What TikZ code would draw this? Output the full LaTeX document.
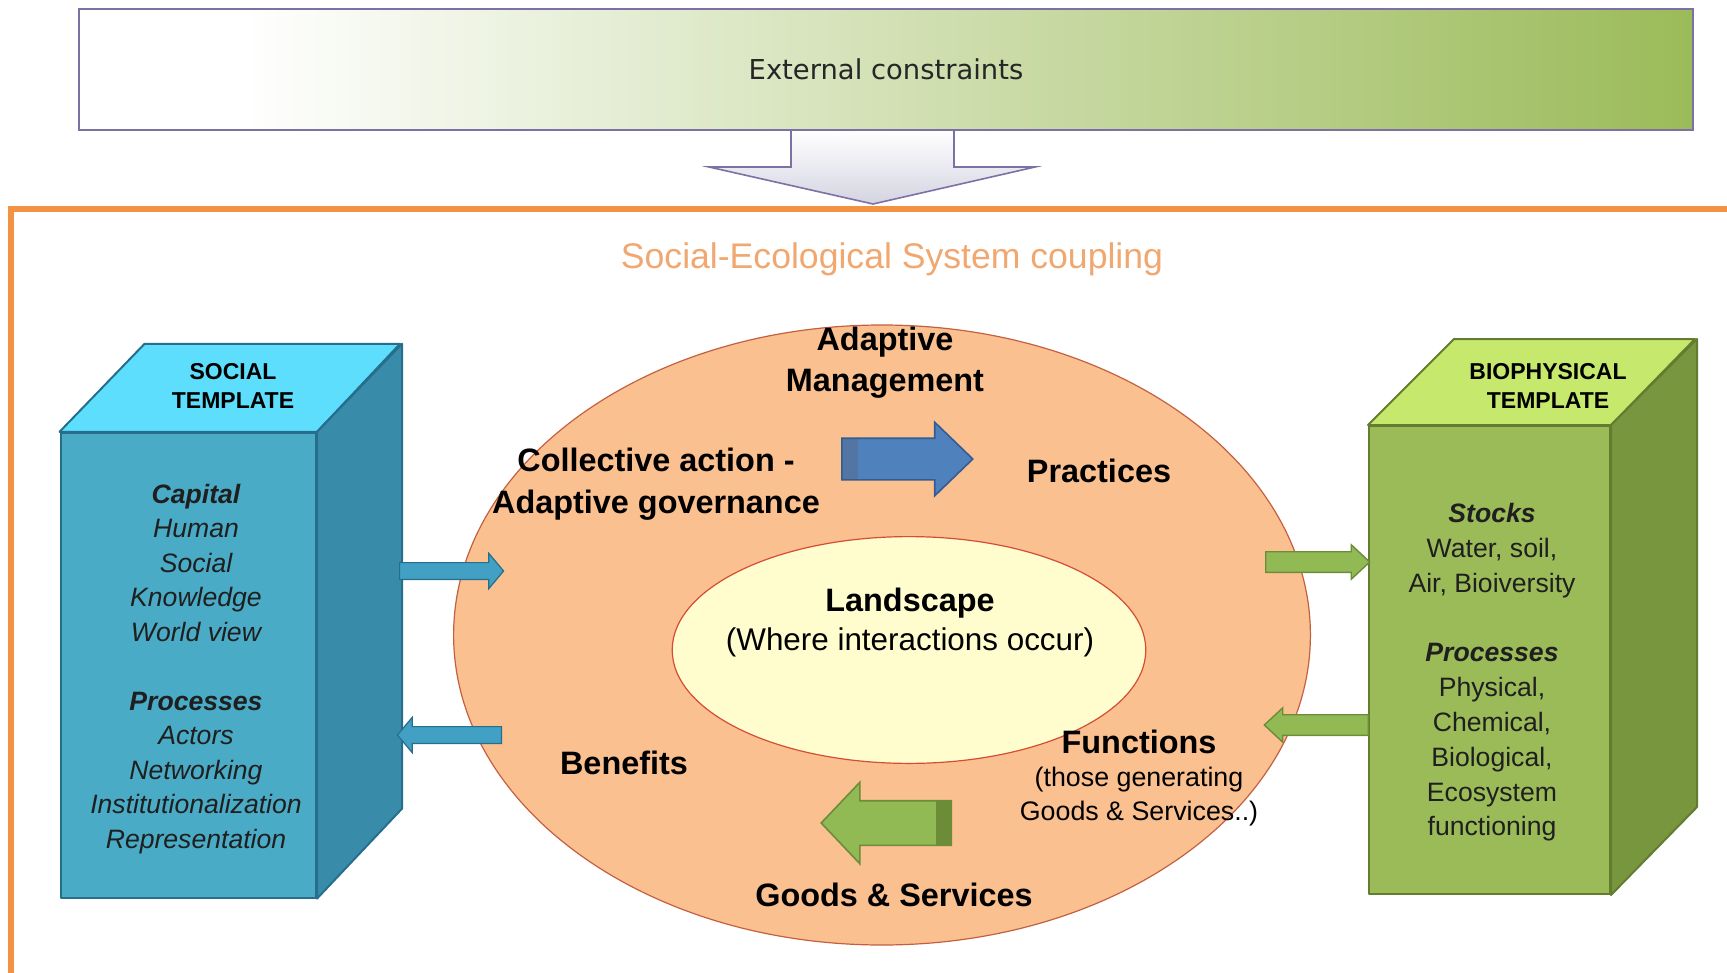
\documentclass[tikz,border=0pt]{standalone}
\usepackage{fontspec}
\setmainfont{Liberation Sans}
\newfontfamily\dejavu{DejaVu Sans}
\usetikzlibrary{shapes.geometric,shapes.arrows}

\definecolor{extgreen}{RGB}{155,187,89}
\definecolor{extline}{RGB}{125,112,165}
\definecolor{pushgray}{RGB}{212,212,226}
\definecolor{frameorange}{RGB}{242,146,66}
\definecolor{titleorange}{RGB}{240,168,112}
\definecolor{peach}{RGB}{250,192,144}
\definecolor{ringline}{RGB}{196,96,64}
\definecolor{landfill}{RGB}{255,252,206}
\definecolor{landline}{RGB}{214,76,52}
\definecolor{socfront}{RGB}{74,171,198}
\definecolor{soctop}{RGB}{92,222,252}
\definecolor{socside}{RGB}{56,140,170}
\definecolor{socline}{RGB}{38,110,140}
\definecolor{socarrowfill}{RGB}{66,160,196}
\definecolor{biofront}{RGB}{155,187,89}
\definecolor{biotop}{RGB}{198,232,108}
\definecolor{bioside}{RGB}{120,150,62}
\definecolor{bioline}{RGB}{98,124,48}
\definecolor{govblue}{RGB}{79,129,189}
\definecolor{govdark}{RGB}{52,92,148}
\definecolor{leafgreen}{RGB}{146,186,84}
\definecolor{leafdark}{RGB}{108,140,56}

\pgfdeclarehorizontalshading{extshade}{100bp}{color(0bp)=(white); color(25bp)=(white); color(30bp)=(white); color(75bp)=(extgreen); color(100bp)=(extgreen)}

\tikzset{
extbox/.style={
  draw=extline, line width=0.8pt, shade, shading=extshade,
  minimum width=807pt, minimum height=60.5pt, inner sep=0pt,
  font=\dejavu\fontsize{13.7}{16}\selectfont, text=black!85
},
pusharrow/.style={draw=extline, line width=0.8pt, top color=white, bottom color=pushgray},
frame/.style={draw=frameorange, line width=2.6pt},
frametitle/.style={text=titleorange, font=\fontsize{17.8}{21}\selectfont, inner sep=0pt},
ringshape/.style={
  ellipse, draw=ringline, line width=0.6pt, fill=peach,
  minimum width=428.4pt, minimum height=310pt, inner sep=0pt
},
landshape/.style={
  ellipse, draw=landline, line width=0.6pt, fill=landfill,
  minimum width=236.8pt, minimum height=113.4pt, inner sep=0pt
},
socface/.style={fill=socfront, draw=socline, line width=1pt, line join=round},
biopface/.style={fill=biofront, draw=bioline, line width=1pt, line join=round},
tmplhead/.style={font=\bfseries\fontsize{11.5}{14.3}\selectfont, align=center, inner sep=0pt},
socbody/.style={font=\itshape\fontsize{13.3}{17.25}\selectfont, align=center, inner sep=0pt, text=black!88},
biobody/.style={font=\fontsize{13.3}{17.4}\selectfont, align=center, inner sep=0pt, text=black!88},
ringlabel/.style={font=\bfseries\fontsize{16.2}{20.5}\selectfont, align=center, inner sep=0pt},
ringnote/.style={font=\fontsize{15.7}{19}\selectfont, align=center, inner sep=0pt},
fnnote/.style={font=\fontsize{13.4}{17}\selectfont, align=center, inner sep=0pt},
bigblue/.style={
  single arrow, draw=govdark, line width=0.8pt, fill=govblue,
  inner xsep=0pt, inner ysep=10pt, minimum height=65.5pt, minimum width=36pt,
  single arrow head extend=8pt, single arrow tip angle=88,
  path picture={\fill[govdark!85] (path picture bounding box.south west) rectangle ([xshift=8pt]path picture bounding box.north west);}
},
bigleaf/.style={
  single arrow, shape border rotate=180, draw=leafdark, line width=0.8pt, fill=leafgreen,
  inner xsep=0pt, inner ysep=10.75pt, minimum height=65pt, minimum width=40pt,
  single arrow head extend=9.25pt, single arrow tip angle=93,
  path picture={\fill[leafdark] ([xshift=-7.5pt]path picture bounding box.south east) rectangle (path picture bounding box.north east);}
},
socarrow/.style={
  single arrow, draw=socline, line width=0.6pt, fill=socarrowfill,
  inner xsep=0pt, inner ysep=3.9pt, minimum height=52pt, minimum width=17pt,
  single arrow head extend=4.6pt, single arrow tip angle=100
},
bioarrow/.style={
  single arrow, draw=leafdark, line width=0.7pt, fill=leafgreen,
  inner xsep=0pt, inner ysep=4.8pt, minimum height=52pt, minimum width=16.5pt,
  single arrow head extend=3.45pt, single arrow tip angle=86
}
}

\begin{document}
\begin{tikzpicture}[x=0.5pt,y=-0.5pt]
\useasboundingbox (0,0) rectangle (1727,973);
\clip (0,0) rectangle (1727,973);
% external constraints and the arrow below
\node[extbox] (ext) at (886,69.5) {External constraints};
\draw[pusharrow] (791,130) -- (954,130) -- (954,167) -- (1035,167) -- (873,204)
  -- (709,167) -- (791,167) -- cycle;
% the system frame
\draw[frame] (11,209) rectangle (1760,1010);
\node[frametitle] (title) at (892,259) {Social-Ecological System coupling};
% the rings
\node[ringshape] (ring) at (882,635) {};
\node[landshape] (land) at (909,650) {};
% social template
\node[socface, minimum width=127.75pt, minimum height=232.4pt, inner sep=0pt] (social) at (188.3,665.2) {};
\draw[socface, fill=soctop] (social.north west) -- ++(85,-88) -- ++(255.5,0) -- (social.north east) -- cycle;
\draw[socface, fill=socside] (social.north east) -- ++(85,-88) -- ++(0,464.8) -- (social.south east) -- cycle;
% biophysical template
\node[biopface, minimum width=120.5pt, minimum height=234pt, inner sep=0pt] (bio) at (1489.5,660) {};
\draw[biopface, fill=biotop] (bio.north west) -- ++(86,-86) -- ++(241,0) -- (bio.north east) -- cycle;
\draw[biopface, fill=bioside] (bio.north east) -- ++(86,-86) -- ++(0,468) -- (bio.south east) -- cycle;
% template texts
\node[tmplhead] (soclabel) at (233,386) {SOCIAL\\TEMPLATE};
\node[socbody] (soctext) at (196,669) {\textbf{Capital}\\Human\\Social\\Knowledge\\World view\\[17.25pt]
  \textbf{Processes}\\Actors\\Networking\\Institutionalization\\Representation};
\node[tmplhead] (biolabel) at (1548,386) {BIOPHYSICAL\\TEMPLATE};
\node[biobody] (biotext) at (1492,672.5) {\textbf{\itshape Stocks}\\Water, soil,\\Air, Bioiversity\\[17.4pt]
  \textbf{\itshape Processes}\\Physical,\\Chemical,\\Biological,\\Ecosystem\\functioning};
% ring texts
\node[ringlabel] (adapt) at (885,363) {Adaptive\\Management};
\node[ringlabel, font=\bfseries\fontsize{16.2}{21}\selectfont] (collect) at (656,484) {Collective action -\\Adaptive governance};
\node[ringlabel] (practice) at (1099,471) {Practices};
\node[ringlabel] (landtitle) at (910,603) {Landscape};
\node[ringnote] (landnote) at (910,642) {(Where interactions occur)};
\node[ringlabel] (benefit) at (624,763) {Benefits};
\node[ringlabel] (function) at (1139,742) {Functions};
\node[fnnote] (fnnote) at (1139,797) {(those generating\\Goods \& Services..)};
\node[ringlabel] (goods) at (894,895) {Goods \& Services};
% the arrows
\node[bigblue, anchor=tail] (act) at (841,459) {};
\node[bigleaf, anchor=tail] (serve) at (952,823) {};
\node[socarrow, anchor=tail] (socout) at (399,571) {};
\node[socarrow, shape border rotate=180, anchor=tail] (socin) at (502,735) {};
\node[bioarrow, anchor=tail] (bioin) at (1265,562) {};
\node[bioarrow, shape border rotate=180, anchor=tail] (bioout) at (1369,725) {};
\end{tikzpicture}
\end{document}
